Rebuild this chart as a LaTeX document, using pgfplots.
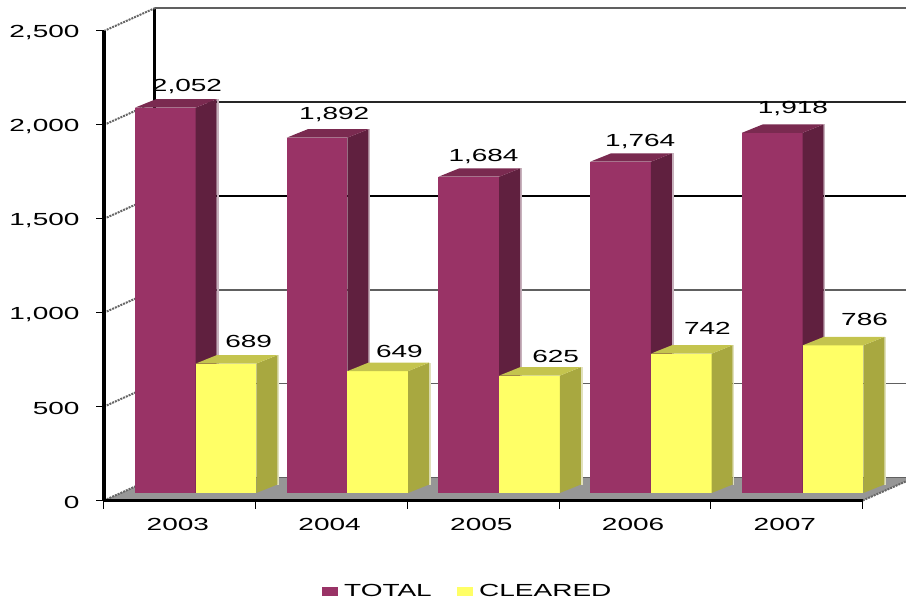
\documentclass[border=0pt]{standalone}
\usepackage{fontspec}
\setmainfont[FakeStretch=1.6]{Liberation Sans}
\usepackage{pgfplots}
\usepackage{pgfplotstable}
\pgfplotsset{compat=1.18}

\definecolor{totalfront}{HTML}{993366}
\definecolor{totalside}{HTML}{60203F}
\definecolor{totaltop}{HTML}{7A2A50}
\definecolor{clearedfront}{HTML}{FFFF66}
\definecolor{clearedside}{HTML}{A8A840}
\definecolor{clearedtop}{HTML}{C4C44E}
\definecolor{floorgrey}{HTML}{969696}
\definecolor{wallgrey}{HTML}{606060}

% yearly counts; the last columns nudge each value label (x in categories, y in counts)
\pgfplotstableread{
year total tx ty cleared cx cy
2003 2052 0.343 112 689 0.349 120
2004 1892 0.313 123 649 0.343 107
2005 1684 0.297 107 625 0.372 101
2006 1764 0.330 107 742 0.372 133
2007 1918 0.336 128 786 0.408 139
}\bars

% one bar: left edge, value, then the three face colours
\newcommand{\solidbar}[5]{%
  \pgfmathsetmacro{\xa}{#1}%
  \pgfmathsetmacro{\xb}{#1+0.40}%
  \pgfmathsetmacro{\xc}{#1+0.40+0.1384}%
  \pgfmathsetmacro{\xd}{#1+0.1384}%
  \pgfmathsetmacro{\xe}{#1+0.40+0.1384+0.012}%
  \pgfmathsetmacro{\ya}{40}%
  \pgfmathsetmacro{\yb}{40+45}%
  \pgfmathsetmacro{\yc}{40+#2}%
  \pgfmathsetmacro{\yd}{40+#2+45}%
  \addplot[fill=#4!35, draw=none, forget plot] coordinates {(\xc,\yb) (\xe,\yb) (\xe,\yd) (\xc,\yd)};
  \addplot[fill=#3, draw=none, forget plot] coordinates {(\xa,\ya) (\xb,\ya) (\xb,\yc) (\xa,\yc)};
  \addplot[fill=#4, draw=none, forget plot] coordinates {(\xb,\ya) (\xc,\yb) (\xc,\yd) (\xb,\yc)};
  \addplot[fill=#5, draw=none, forget plot] coordinates {(\xa,\yc) (\xb,\yc) (\xc,\yd) (\xd,\yd)};
}

\begin{document}
\begin{tikzpicture}[x=1pt,y=1pt]
\useasboundingbox (0,0) rectangle (906,603);
\begin{axis}[
  at={(104pt,102.5pt)}, anchor=south west,
  scale only axis, width=758.7pt, height=469.5pt,
  clip=false, axis on top,
  xmin=2002.5, xmax=2007.5, ymin=0, ymax=2500,
  axis x line=bottom, axis y line=left,
  axis line style={-, line width=3pt, black},
  xtick={2002.5,2003.5,2004.5,2005.5,2006.5,2007.5},
  x tick label as interval,
  xticklabels={2003,2004,2005,2006,2007},
  ytick={0,500,1000,1500,2000,2500},
  tick align=outside, major tick length=8pt,
  tick style={black, line width=1pt},
  /pgf/number format/assume math mode=true,
  /pgf/number format/1000 sep={,},
  tick label style={font=\fontsize{17.5}{20}\selectfont},
  xticklabel style={xshift=-2pt, yshift=-6pt},
  yticklabel style={xshift=-13pt, yshift=-1.5pt},
  legend style={
    at={(0.287,-0.1925)}, anchor=west,
    draw=none, fill=none, inner sep=0pt, outer sep=0pt,
    font=\fontsize{17.5}{20}\selectfont,
    legend columns=2,
    /tikz/every even column/.append style={column sep=18pt},
    nodes={inner xsep=7pt},
  },
  legend cell align=left,
]

% floor of the chart box
\addplot[fill=floorgrey, draw=none, forget plot] coordinates
  {(2002.5,0) (2007.5,0) (2007.836,120) (2002.836,120)};
\addplot[wallgrey, line width=1pt, forget plot] coordinates {(2002.836,120) (2007.836,120)};

% back wall: frame and gridlines
\addplot[black, line width=3pt, forget plot] coordinates {(2002.836,120) (2002.836,2622)};
\addplot[wallgrey, line width=2pt, forget plot] coordinates {(2002.836,2622) (2007.836,2622)};
\addplot[black!85, line width=1.5pt, forget plot] coordinates {(2002.836,2122) (2007.836,2122)};
\addplot[black, line width=2.5pt, forget plot] coordinates {(2002.836,1622) (2007.836,1622)};
\addplot[wallgrey, line width=1.5pt, forget plot] coordinates {(2002.836,1122) (2007.836,1122)};
\addplot[wallgrey, line width=1.5pt, forget plot] coordinates {(2002.836,622) (2007.836,622)};

% side wall: gridlines running back from the value axis
\pgfplotsinvokeforeach{0,500,1000,1500,2000,2500}{
  \addplot[black!60, line width=2pt, dash pattern=on 2pt off 1pt, forget plot]
    coordinates {(2002.5,#1) (2002.836,#1+122)};
}
\addplot[black!60, line width=2pt, dash pattern=on 2pt off 1pt, forget plot]
  coordinates {(2007.5,0) (2007.836,120)};

% bars, year by year
\pgfplotsinvokeforeach{0,1,2,3,4}{
  \pgfplotstablegetelem{#1}{total}\of\bars \let\valtotal\pgfplotsretval
  \pgfplotstablegetelem{#1}{cleared}\of\bars \let\valcleared\pgfplotsretval
  \solidbar{2002.5+#1+0.2043}{\valtotal}{totalfront}{totalside}{totaltop}
  \solidbar{2002.5+#1+0.6043}{\valcleared}{clearedfront}{clearedside}{clearedtop}
}

% value labels
\addplot[draw=none, forget plot, point meta=explicit,
  nodes near coords, nodes near coords align=center,
  every node near coord/.append style={font=\fontsize{17.5}{20}\selectfont, anchor=center, text=black}]
  table[x expr=\thisrow{year}-0.5+\thisrow{tx}+0.2043, y expr=\thisrow{total}+40+\thisrow{ty}, meta=total] {\bars};
\addplot[draw=none, forget plot, point meta=explicit,
  nodes near coords, nodes near coords align=center,
  every node near coord/.append style={font=\fontsize{17.5}{20}\selectfont, anchor=center, text=black}]
  table[x expr=\thisrow{year}-0.5+\thisrow{cx}+0.6043, y expr=\thisrow{cleared}+40+\thisrow{cy}, meta=cleared] {\bars};

\addlegendimage{legend image code/.code={\fill[totalfront] (0pt,-4pt) rectangle (15pt,4pt);}}
\addlegendentry{TOTAL}
\addlegendimage{legend image code/.code={\fill[clearedfront] (0pt,-4pt) rectangle (15pt,4pt);}}
\addlegendentry{CLEARED}
\end{axis}
\end{tikzpicture}
\end{document}
